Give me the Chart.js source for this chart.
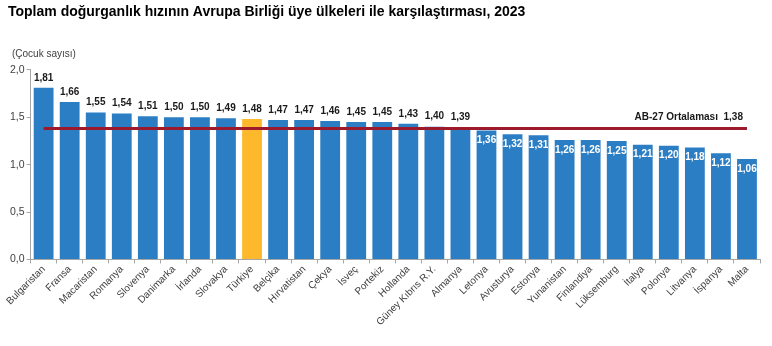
<!DOCTYPE html>
<html>
<head>
<meta charset="utf-8">
<script src="https://cdn.jsdelivr.net/npm/chart.js@4"></script>
<style>
  html, body { margin: 0; padding: 0; background: #fff; }
  #wrap { width: 772px; height: 346px; position: relative; }
</style>
</head>
<body>
<div id="wrap"><canvas id="chart"></canvas></div>
<script>
// Countries (x axis)
const countries = [
  "Bulgaristan", "Fransa", "Macaristan", "Romanya", "Slovenya", "Danimarka",
  "İrlanda", "Slovakya", "Türkiye", "Belçika", "Hırvatistan", "Çekya",
  "İsveç", "Portekiz", "Hollanda", "Güney Kıbrıs R.Y.", "Almanya", "Letonya",
  "Avusturya", "Estonya", "Yunanistan", "Finlandiya", "Lüksemburg", "İtalya",
  "Polonya", "Litvanya", "İspanya", "Malta"
];

// Total fertility rate, 2023
const fertility = [
  1.81, 1.66, 1.55, 1.54, 1.51, 1.50,
  1.50, 1.49, 1.48, 1.47, 1.47, 1.46,
  1.45, 1.45, 1.43, 1.40, 1.39, 1.36,
  1.32, 1.31, 1.26, 1.26, 1.25, 1.21,
  1.20, 1.18, 1.12, 1.06
];

// EU-27 average
const euAverage = 1.38;
const euLabel = "AB-27 Ortalaması";

const yTicks = [0, 0.5, 1.0, 1.5, 2.0];

const BLUE = "#2b7ec4";
const YELLOW = "#fdb92b";
const RED = "#9c1a2c";

const fmt = (v, d) => v.toFixed(d).replace(".", ",");

// draws value labels and the average label
const valueLabels = {
  id: "valueLabels",
  afterDatasetsDraw(chart) {
    const ctx = chart.ctx;
    const meta = chart.getDatasetMeta(0);
    ctx.save();
    ctx.font = "bold 10px 'Liberation Sans', Arial, sans-serif";
    ctx.textAlign = "center";
    ctx.textBaseline = "middle";
    meta.data.forEach((bar, i) => {
      const v = fertility[i];
      if (v > euAverage) {
        ctx.fillStyle = "#1a1a1a";
        ctx.fillText(fmt(v, 2), bar.x, bar.y - 10);
      } else {
        ctx.fillStyle = "#ffffff";
        ctx.fillText(fmt(v, 2), bar.x, bar.y + 10);
      }
    });
    // average label
    const lineMeta = chart.getDatasetMeta(1);
    const last = lineMeta.data[lineMeta.data.length - 1];
    ctx.fillStyle = "#1a1a1a";
    ctx.textAlign = "right";
    ctx.fillText(euLabel + "  " + fmt(euAverage, 2), last.x - 4, last.y - 11);
    // unit label
    ctx.font = "10px 'Liberation Sans', Arial, sans-serif";
    ctx.fillStyle = "#404040";
    ctx.textAlign = "left";
    ctx.fillText("(Çocuk sayısı)", 12, 54);
    ctx.restore();
  }
};

new Chart(document.getElementById("chart"), {
  type: "bar",
  data: {
    labels: countries,
    datasets: [
      {
        type: "bar",
        data: fertility,
        backgroundColor: countries.map(c => c === "Türkiye" ? YELLOW : BLUE),
        categoryPercentage: 1,
        barPercentage: 0.76,
        order: 2
      },
      {
        type: "line",
        data: countries.map(() => euAverage),
        borderColor: RED,
        borderWidth: 3,
        pointRadius: 0,
        order: 1
      }
    ]
  },
  options: {
    responsive: true,
    maintainAspectRatio: false,
    animation: false,
    layout: { padding: { left: 8, right: 12, top: 0, bottom: 18 } },
    plugins: {
      legend: { display: false },
      tooltip: { enabled: false },
      title: {
        display: true,
        text: "Toplam doğurganlık hızının Avrupa Birliği üye ülkeleri ile karşılaştırması, 2023",
        align: "start",
        color: "#000",
        font: { family: "'Liberation Sans', Arial, sans-serif", size: 14, weight: "bold" },
        padding: { top: 4, bottom: 49 }
      }
    },
    scales: {
      x: {
        grid: { display: true, drawOnChartArea: false, offset: true, tickLength: 4, color: "#a6a6a6" },
        border: { color: "#a6a6a6" },
        ticks: {
          minRotation: 45,
          maxRotation: 45,
          color: "#404040",
          padding: 0,
          font: { family: "'Liberation Sans', Arial, sans-serif", size: 10 }
        }
      },
      y: {
        min: 0,
        max: 2,
        afterBuildTicks: axis => { axis.ticks = yTicks.map(v => ({ value: v })); },
        grid: { display: true, drawOnChartArea: false, tickLength: 4, color: "#a6a6a6" },
        border: { color: "#a6a6a6" },
        ticks: {
          color: "#404040",
          padding: 2,
          font: { family: "'Liberation Sans', Arial, sans-serif", size: 10.5 },
          callback: v => fmt(v, 1)
        }
      }
    }
  },
  plugins: [valueLabels]
});
</script>
</body>
</html>
